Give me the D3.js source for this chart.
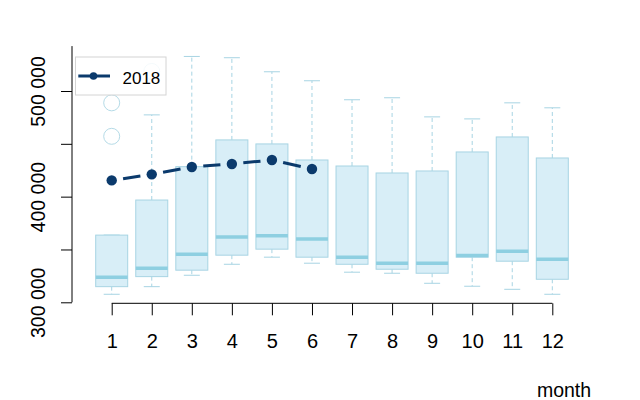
<!DOCTYPE html>
<html>
<head>
<meta charset="utf-8">
<script src="https://cdn.jsdelivr.net/npm/d3@7"></script>
<style>
  html, body { margin: 0; padding: 0; background: #ffffff; }
  svg { display: block; font-family: "Liberation Sans", Arial, sans-serif; }
</style>
</head>
<body>
<svg id="chart" width="640" height="400"></svg>
<script>
// ---- data ----
const months      = [1, 2, 3, 4, 5, 6, 7, 8, 9, 10, 11, 12];
const whiskerLow  = [307600, 314800, 325600, 336000, 342700, 337000, 328500, 327500, 318000, 315200, 312300, 307600];
const q1          = [314800, 324300, 330400, 344600, 350300, 342700, 336000, 331300, 327500, 342700, 338900, 321800];
const medians     = [323700, 332300, 345500, 361700, 362900, 359800, 342700, 337000, 337000, 344200, 348400, 340800];
const q3          = [363600, 396800, 428400, 453700, 449900, 434700, 429000, 422400, 424300, 442300, 456500, 436600];
const whiskerHigh = [363600, 477400, 532700, 531500, 518200, 509700, 491700, 493600, 475500, 473600, 488800, 484100];
const outlierMonth = [1, 1, 2];
const outlierValue = [488800, 457100, 518500];
const months2018  = [1, 2, 3, 4, 5, 6];
const values2018  = [415400, 421100, 428100, 430900, 434700, 426200];
const yTickValues = [300000, 350000, 400000, 450000, 500000];
const yTickLabels = ["300 000", "", "400 000", "", "500 000"];
const seriesName  = "2018";
const xTitle      = "month";

// ---- layout ----
const svg = d3.select("#chart");
const x = d3.scaleLinear().domain([1, 12]).range([111.7, 552.3]);
const y = d3.scaleLinear().domain([300000, 500000]).range([302.3, 91]);
const yAxisTop = 542500;   // extent of the left spine
const axisX = 72;
const boxW = 32;

const boxFill = "#d8eef7", boxStroke = "#a7d4e3", medCol = "#8ecfe1", navy = "#0b3a6c";

// ---- boxes ----
const g = svg.append("g");
months.forEach((m, i) => {
  const cx = x(m);
  g.append("line").attr("x1", cx).attr("x2", cx)
    .attr("y1", y(q3[i])).attr("y2", y(whiskerHigh[i]))
    .attr("stroke", boxStroke).attr("stroke-width", 1).attr("stroke-dasharray", "4,3");
  g.append("line").attr("x1", cx).attr("x2", cx)
    .attr("y1", y(q1[i])).attr("y2", y(whiskerLow[i]))
    .attr("stroke", boxStroke).attr("stroke-width", 1).attr("stroke-dasharray", "4,3");
  [whiskerHigh[i], whiskerLow[i]].forEach(v => {
    g.append("line").attr("x1", cx - boxW / 4).attr("x2", cx + boxW / 4)
      .attr("y1", y(v)).attr("y2", y(v))
      .attr("stroke", boxStroke).attr("stroke-width", 1);
  });
  g.append("rect").attr("x", cx - boxW / 2).attr("width", boxW)
    .attr("y", y(q3[i])).attr("height", y(q1[i]) - y(q3[i]))
    .attr("fill", boxFill).attr("stroke", boxStroke).attr("stroke-width", 1);
  g.append("line").attr("x1", cx - boxW / 2).attr("x2", cx + boxW / 2)
    .attr("y1", y(medians[i])).attr("y2", y(medians[i]))
    .attr("stroke", medCol).attr("stroke-width", 3.5);
});

outlierMonth.forEach((m, i) => {
  g.append("circle").attr("cx", x(m)).attr("cy", y(outlierValue[i])).attr("r", 8)
    .attr("fill", "none").attr("stroke", "#b5dbe7").attr("stroke-width", 1);
});

// ---- 2018 series (type "b": segments with gaps around points) ----
const gap = 11.5;
for (let i = 0; i < months2018.length - 1; i++) {
  const x1 = x(months2018[i]), y1 = y(values2018[i]);
  const x2 = x(months2018[i + 1]), y2 = y(values2018[i + 1]);
  const len = Math.hypot(x2 - x1, y2 - y1);
  const ux = (x2 - x1) / len, uy = (y2 - y1) / len;
  svg.append("line")
    .attr("x1", x1 + ux * gap).attr("y1", y1 + uy * gap)
    .attr("x2", x2 - ux * gap).attr("y2", y2 - uy * gap)
    .attr("stroke", navy).attr("stroke-width", 3);
}
svg.selectAll(".pt").data(months2018).enter().append("circle")
  .attr("cx", d => x(d)).attr("cy", (d, i) => y(values2018[i])).attr("r", 5.2)
  .attr("fill", navy);

// ---- axes ----
const yAxis = d3.axisLeft(y).tickValues(yTickValues)
  .tickFormat((d, i) => yTickLabels[i]).tickSize(11).tickPadding(0);
const ya = svg.append("g").attr("transform", `translate(${axisX},0)`).call(yAxis);
ya.select(".domain").remove();
ya.selectAll(".tick line").attr("stroke", "#000");
ya.selectAll(".tick text")
  .attr("x", null).attr("dy", null).attr("y", null)
  .attr("transform", `translate(${45 - axisX},0) rotate(-90)`)
  .attr("text-anchor", "middle")
  .attr("font-size", 19.5).attr("font-family", "Liberation Sans, Arial, sans-serif")
  .attr("fill", "#000");
svg.append("line").attr("x1", axisX).attr("x2", axisX)
  .attr("y1", y(300000)).attr("y2", y(yAxisTop)).attr("stroke", "#000");

const xAxis = d3.axisBottom(x).tickValues(months).tickFormat(d3.format("d"))
  .tickSize(12).tickSizeOuter(0).tickPadding(0);
const xa = svg.append("g").attr("transform", "translate(0,303.3)").call(xAxis);
xa.select(".domain").attr("stroke", "#000").attr("d", `M${x(1)},0H${x(12)}`);
xa.selectAll(".tick line").attr("stroke", "#000");
xa.selectAll(".tick text")
  .attr("y", 44.4).attr("dy", null)
  .attr("font-size", 20).attr("font-family", "Liberation Sans, Arial, sans-serif")
  .attr("fill", "#000");

svg.append("text").attr("x", 564).attr("y", 396.5).attr("text-anchor", "middle")
  .attr("font-size", 19.5).attr("fill", "#000").text(xTitle);

// ---- legend ----
const lg = svg.append("g");
lg.append("rect").attr("x", 75.5).attr("y", 57).attr("width", 90.5).attr("height", 38)
  .attr("fill", "rgba(255,255,255,0.85)").attr("stroke", "#d4d4d4").attr("stroke-width", 1);
lg.append("line").attr("x1", 78.3).attr("x2", 110).attr("y1", 76).attr("y2", 76)
  .attr("stroke", navy).attr("stroke-width", 3);
lg.append("circle").attr("cx", 93.5).attr("cy", 76).attr("r", 3.8).attr("fill", navy);
lg.append("text").attr("x", 122.5).attr("y", 84).attr("font-size", 17).attr("fill", "#000")
  .text(seriesName);
</script>
</body>
</html>
